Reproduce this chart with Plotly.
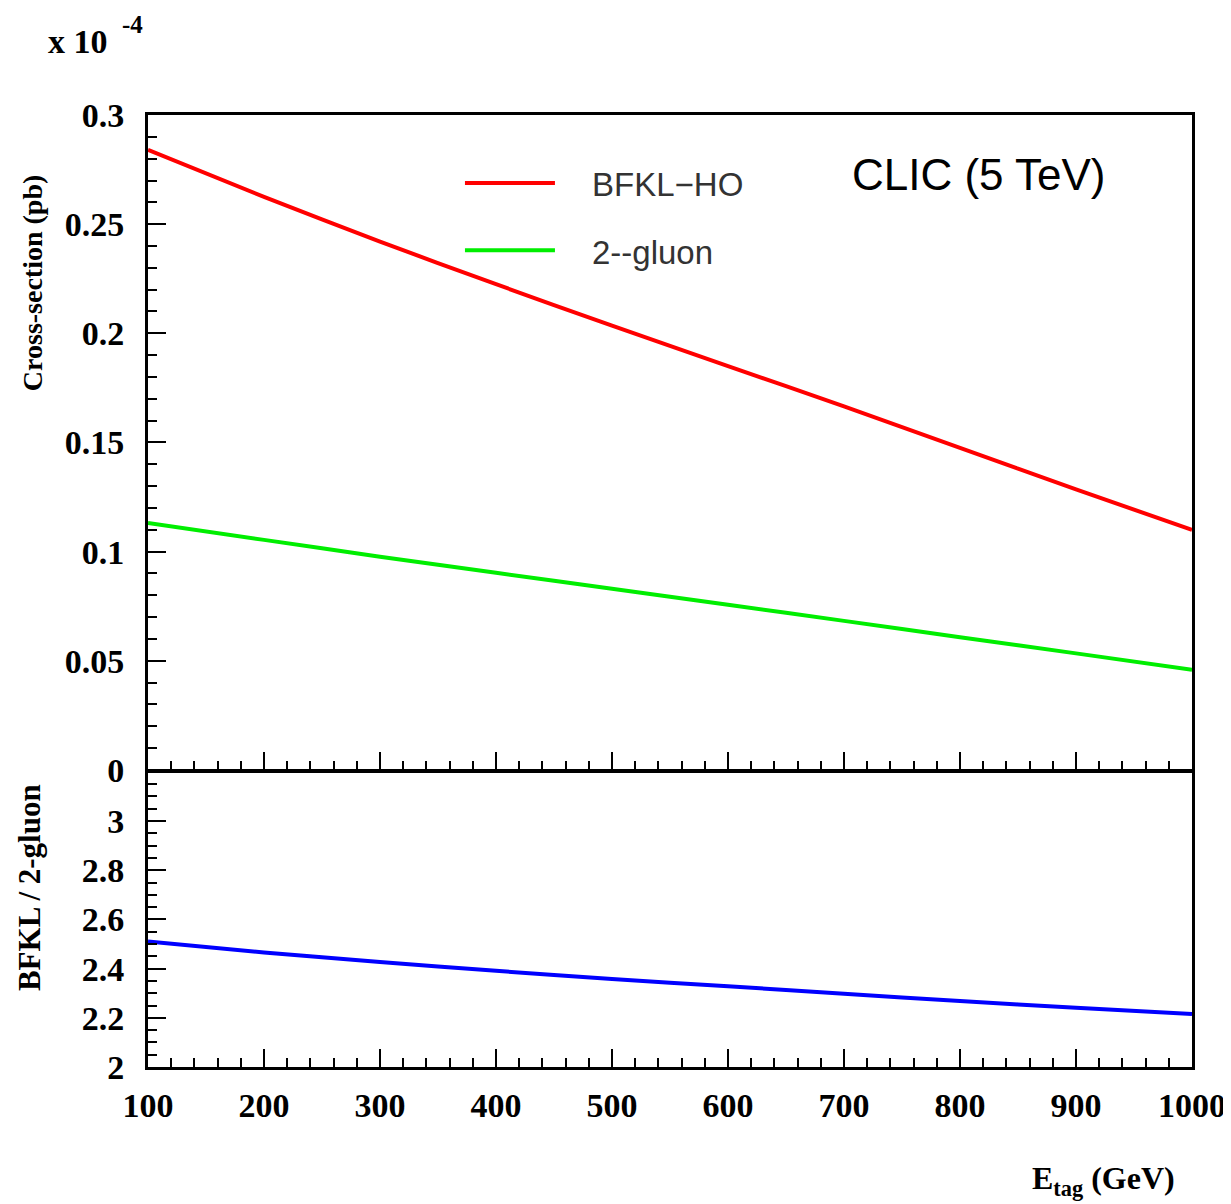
import plotly.graph_objects as go

# ---- data ----
e_tag = [100, 200, 300, 400, 500, 600, 700, 800, 900, 1000]
bfkl_ho = [0.284, 0.2625, 0.2420, 0.2225, 0.2035, 0.1850, 0.1665, 0.1475, 0.1285, 0.110]
two_gluon = [0.1131, 0.1054, 0.0977, 0.0903, 0.0830, 0.0757, 0.0683, 0.0608, 0.0534, 0.0459]
ratio = [2.510, 2.466, 2.427, 2.391, 2.358, 2.328, 2.298, 2.268, 2.241, 2.215]

x_ticks = [100, 200, 300, 400, 500, 600, 700, 800, 900, 1000]
y_top_ticks = [0, 0.05, 0.1, 0.15, 0.2, 0.25, 0.3]
y_top_labels = ["0", "0.05", "0.1", "0.15", "0.2", "0.25", "0.3"]
y_bot_ticks = [2, 2.2, 2.4, 2.6, 2.8, 3]
y_bot_labels = ["2", "2.2", "2.4", "2.6", "2.8", "3"]

SERIF = "Liberation Serif"
SANS = "Liberation Sans"

fig = go.Figure()
fig.add_trace(go.Scatter(x=e_tag, y=bfkl_ho, mode="lines", name="BFKL-HO",
                         line=dict(color="#ff0000", width=4, shape="spline", smoothing=0.6),
                         xaxis="x", yaxis="y", showlegend=False))
fig.add_trace(go.Scatter(x=e_tag, y=two_gluon, mode="lines", name="2--gluon",
                         line=dict(color="#00ee00", width=4, shape="spline", smoothing=0.6),
                         xaxis="x", yaxis="y", showlegend=False))
fig.add_trace(go.Scatter(x=e_tag, y=ratio, mode="lines", name="ratio",
                         line=dict(color="#0000ff", width=4, shape="spline", smoothing=0.6),
                         xaxis="x2", yaxis="y2", showlegend=False))

tickfont = dict(family=SERIF, size=34, color="black", weight="bold")

common_x = dict(range=[100, 1000], tickvals=x_ticks, ticks="inside", ticklen=18,
                tickwidth=2, tickcolor="black", showline=True, linecolor="black",
                linewidth=3, mirror=True, showgrid=False, zeroline=False,
                automargin=False,
                minor=dict(ticks="inside", dtick=20, ticklen=9, tickwidth=2,
                           tickcolor="black", showgrid=False))

fig.update_layout(
    width=1231, height=1204,
    paper_bgcolor="white", plot_bgcolor="white",
    margin=dict(l=140, r=47, t=107, b=145),
    xaxis=dict(common_x, anchor="y", showticklabels=False),
    yaxis=dict(domain=[0.312, 1], range=[0, 0.3], tickvals=y_top_ticks,
               ticktext=y_top_labels, ticks="inside", ticklen=18, tickwidth=2,
               tickcolor="black", showline=True, linecolor="black", linewidth=3,
               mirror=True, showgrid=False, zeroline=False, tickfont=tickfont,
               ticklabelstandoff=14, automargin=False,
               minor=dict(ticks="inside", dtick=0.01, ticklen=9, tickwidth=2,
                          tickcolor="black", showgrid=False)),
    xaxis2=dict(common_x, anchor="y2", tickfont=tickfont,
                ticktext=[str(v) for v in x_ticks], ticklabelstandoff=6),
    yaxis2=dict(domain=[0, 0.31], range=[2, 3.2], tickvals=y_bot_ticks,
                ticktext=y_bot_labels, ticks="inside", ticklen=18, tickwidth=2,
                tickcolor="black", showline=True, linecolor="black", linewidth=3,
                mirror=True, showgrid=False, zeroline=False, tickfont=tickfont,
                ticklabelstandoff=14, automargin=False,
                minor=dict(ticks="inside", dtick=0.05, ticklen=9, tickwidth=2,
                           tickcolor="black", showgrid=False)),
)

annotations = [
    dict(text="<b>Cross-section (pb)</b>", x=-0.111, y=0.8235, textangle=-90,
         font=dict(family=SERIF, size=28, color="black")),
    dict(text="<b>BFKL / 2-gluon</b>", x=-0.114, y=0.189, textangle=-90,
         font=dict(family=SERIF, size=31, color="black")),
    dict(text="<b>x 10</b>", x=-0.067, y=1.0767,
         font=dict(family=SERIF, size=34, color="black")),
    dict(text="<b>-4</b>", x=-0.0144, y=1.095,
         font=dict(family=SERIF, size=25, color="black")),
    dict(text="CLIC (5 TeV)", x=0.796, y=0.937,
         font=dict(family=SANS, size=44, color="black")),
    dict(text="BFKL\u2212HO", x=0.4234, y=0.9265, xanchor="left",
         font=dict(family=SANS, size=33, color="#333333")),
    dict(text="2--gluon", x=0.4234, y=0.856, xanchor="left",
         font=dict(family=SANS, size=33, color="#333333")),
    dict(text="<b>E<sub>tag</sub> (GeV)</b>", x=0.915, y=-0.1187,
         font=dict(family=SERIF, size=32, color="black")),
]
for a in annotations:
    a.update(xref="paper", yref="paper", showarrow=False)
    a.setdefault("xanchor", "center")
    a.setdefault("yanchor", "middle")
fig.update_layout(annotations=annotations)

# legend line samples
fig.add_shape(type="line", xref="paper", yref="paper", x0=0.3036, x1=0.3898,
              y0=0.9286, y1=0.9286, line=dict(color="#ff0000", width=4))
fig.add_shape(type="line", xref="paper", yref="paper", x0=0.3036, x1=0.3898,
              y0=0.858, y1=0.858, line=dict(color="#00ee00", width=4))

fig.write_html("out.html")
